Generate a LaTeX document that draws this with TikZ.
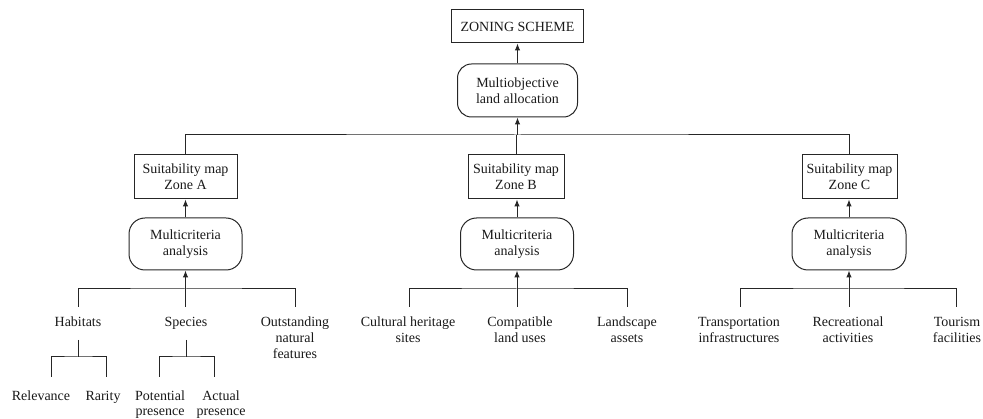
\documentclass[tikz,border=0pt]{standalone}
\usepackage{fontspec}
\setmainfont{Liberation Serif}
\usetikzlibrary{arrows.meta}
\begin{document}
\begin{tikzpicture}[x=1pt,y=-1pt,
  every node/.style={font=\fontsize{14}{16}\selectfont, inner sep=2pt, align=center, text=black!90},
  box/.style={draw=black!85, line width=1pt, minimum height=44pt},
  rbox/.style={draw=black!85, line width=1pt, rounded corners=16pt, minimum height=52pt},
  leaf/.style={anchor=north, outer xsep=0pt, outer ysep=6.5pt},
  subleaf/.style={anchor=north, outer xsep=0pt, outer ysep=11pt, font=\fontsize{14}{15}\selectfont},
  ln/.style={draw=black!85, line width=1pt},
  arr/.style={ln, -{Latex[length=7pt,width=5.5pt]}}]
\useasboundingbox (0,0) rectangle (983,419);

% top
\node[box, minimum width=132pt, minimum height=33pt] (zs) at (517.5,26.5) {ZONING SCHEME};
\node[rbox, minimum width=120pt, minimum height=53pt, rounded corners=14pt] (mo) at (517.5,90.5) {Multiobjective\\land allocation};

% zone boxes
\node[box, minimum width=103pt] (zA) at (185.5,177) {Suitability map\\Zone A};
\node[rbox, minimum width=113pt] (mA) at (185.5,244) {Multicriteria\\analysis};
\node[box, minimum width=96pt] (zB) at (516,177) {Suitability map\\Zone B};
\node[rbox, minimum width=113pt] (mB) at (517,244) {Multicriteria\\analysis};
\node[box, minimum width=95pt] (zC) at (849.5,177) {Suitability map\\Zone C};
\node[rbox, minimum width=114pt] (mC) at (849,244) {Multicriteria\\analysis};

% leaves A
\node[leaf] (hab) at (78,307) {Habitats\strut};
\node[leaf] (spe) at (186,307) {Species\strut};
\node[leaf] (ons) at (295,307) {Outstanding\strut\\natural\strut\\features\strut};
\node[subleaf] (rel) at (41,377) {Relevance\strut};
\node[subleaf] (rar) at (103,377) {Rarity\strut};
\node[subleaf] (pot) at (160,377) {Potential\strut\\presence\strut};
\node[subleaf] (act) at (221,377) {Actual\strut\\presence\strut};

% leaves B
\node[leaf] (cul) at (408,307) {Cultural heritage\strut\\sites\strut};
\node[leaf] (com) at (520,307) {Compatible\strut\\land uses\strut};
\node[leaf] (lan) at (627,307) {Landscape\strut\\assets\strut};

% leaves C
\node[leaf] (tra) at (739,307) {Transportation\strut\\infrastructures\strut};
\node[leaf] (rec) at (848,307) {Recreational\strut\\activities\strut};
\node[leaf] (tou) at (957,307) {Tourism\strut\\facilities\strut};

% coordinates
\coordinate (top) at (517.5,135);
\coordinate (busA) at (185.5,289);
\coordinate (busB) at (517,289);
\coordinate (busC) at (849,289);
\coordinate (habbus) at (78,357);
\coordinate (spebus) at (186,357);

% top connectors
\draw[arr] (mo.north) -- (zs.south);
\draw[ln] (zA.north) |- (top) -| (zC.north);
\draw[ln] (zB.north) -- (zB.north |- top);
\draw[arr] (top) -- (mo.south);

\draw[arr] (mA.north) -- (zA.south);
\draw[arr] (mB.north) -- (mB.north |- zB.south);
\draw[arr] (mC.north) -- (mC.north |- zC.south);

% zone A tree
\draw[ln] (hab.north) |- (busA) -| (ons.north);
\draw[ln] (busA) -- (busA |- spe.north);
\draw[arr] (busA) -- (mA.south);
\draw[ln] (hab.south) -- (habbus);
\draw[ln] ([xshift=10pt]rel.north) |- (habbus) -| ([xshift=3pt]rar.north);
\draw[ln] (spe.south) -- (spebus);
\draw[ln] ([xshift=-1pt]pot.north) |- (spebus) -| ([xshift=-7pt]act.north);

% zone B tree
\draw[ln] ([xshift=1pt]cul.north) |- (busB) -| (lan.north);
\draw[ln] (busB) -- (busB |- com.north);
\draw[arr] (busB) -- (mB.south);

% zone C tree
\draw[ln] ([xshift=1pt]tra.north) |- (busC) -| ([xshift=-1pt]tou.north);
\draw[ln] (busC) -- (busC |- rec.north);
\draw[arr] (busC) -- (mC.south);
\end{tikzpicture}
\end{document}
